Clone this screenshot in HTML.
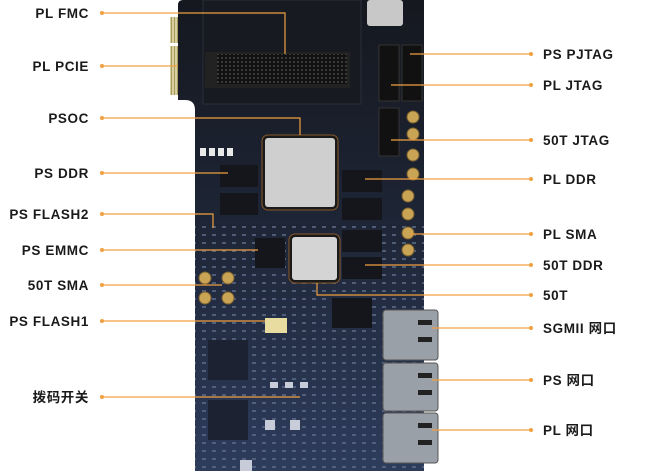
<!DOCTYPE html>
<html><head><meta charset="utf-8"><style>
html,body{margin:0;padding:0;background:#fff;width:651px;height:471px;overflow:hidden}
svg{display:block}
text{font-family:"Liberation Sans","Noto Sans CJK SC",sans-serif;font-weight:bold;font-size:13.5px;fill:#1a1a1a;letter-spacing:0.6px}
</style></head><body>
<svg width="651" height="471" viewBox="0 0 651 471">
<defs>
<linearGradient id="bd" x1="0" y1="0" x2="0" y2="1">
<stop offset="0" stop-color="#15181f"/><stop offset="0.45" stop-color="#1d2434"/><stop offset="1" stop-color="#2e3c5c"/>
</linearGradient>
<pattern id="pin" width="4" height="4" patternUnits="userSpaceOnUse"><rect width="4" height="4" fill="#111"/><rect x="1" y="1" width="2" height="2" fill="#3a3a3a"/></pattern>
<pattern id="gold" width="3" height="6" patternUnits="userSpaceOnUse"><rect width="3" height="6" fill="#d9d0a0"/><rect width="1" height="6" fill="#a89a60"/></pattern>
<pattern id="comp" width="10" height="8" patternUnits="userSpaceOnUse"><rect width="10" height="8" fill="none"/><rect x="2" y="2" width="4" height="2" fill="#5a6a88"/></pattern>
</defs>
<rect x="170" y="17" width="11" height="26" fill="url(#gold)"/>
<rect x="170" y="46" width="11" height="49" fill="url(#gold)"/>
<path d="M183 0 H424 V471 H195 V110 Q195 100 185 100 H178 V5 Q178 0 183 0 Z" fill="url(#bd)"/>
<rect x="195" y="220" width="229" height="251" fill="url(#comp)" opacity="0.8"/>
<rect x="203" y="0" width="158" height="104" fill="#171a20" stroke="#2a2e38"/>
<rect x="205" y="52" width="145" height="36" fill="#222"/>
<rect x="217" y="54" width="130" height="30" fill="url(#pin)"/>
<rect x="367" y="0" width="36" height="26" fill="#c8c8c8" rx="3"/>
<rect x="379" y="45" width="20" height="56" fill="#111" stroke="#333"/>
<rect x="402" y="45" width="20" height="56" fill="#111" stroke="#333"/>
<rect x="379" y="108" width="20" height="48" fill="#111" stroke="#333"/>
<g fill="#e8e8e8"><rect x="200" y="148" width="6" height="8"/><rect x="209" y="148" width="6" height="8"/><rect x="218" y="148" width="6" height="8"/><rect x="227" y="148" width="6" height="8"/></g>
<g fill="#c9a455" stroke="#7a6030">
<circle cx="413" cy="117" r="6"/><circle cx="413" cy="134" r="6"/><circle cx="413" cy="155" r="6"/><circle cx="413" cy="174" r="6"/>
<circle cx="408" cy="196" r="6"/><circle cx="408" cy="214" r="6"/><circle cx="408" cy="233" r="6"/><circle cx="408" cy="250" r="6"/>
<circle cx="205" cy="278" r="6"/><circle cx="228" cy="278" r="6"/><circle cx="205" cy="298" r="6"/><circle cx="228" cy="298" r="6"/>
</g>
<rect x="262" y="135" width="76" height="75" rx="6" fill="#1a1a1a" stroke="#8a5a2a"/>
<rect x="265" y="138" width="70" height="69" rx="3" fill="#cfcfcf"/>
<rect x="289" y="234" width="51" height="49" rx="6" fill="#1a1a1a" stroke="#8a5a2a"/>
<rect x="292" y="237" width="45" height="43" rx="3" fill="#d4d4d4"/>
<g fill="#14161c">
<rect x="220" y="165" width="38" height="22"/><rect x="220" y="193" width="38" height="22"/>
<rect x="342" y="170" width="40" height="22"/><rect x="342" y="198" width="40" height="22"/>
<rect x="342" y="230" width="40" height="22"/><rect x="342" y="257" width="40" height="22"/>
<rect x="255" y="238" width="30" height="30"/><rect x="332" y="298" width="40" height="30"/>
<rect x="208" y="340" width="40" height="40" fill="#1c2232"/><rect x="208" y="400" width="40" height="40" fill="#1c2232"/>
</g>
<g fill="#c8ccd8"><rect x="270" y="382" width="8" height="6"/><rect x="285" y="382" width="8" height="6"/><rect x="300" y="382" width="8" height="6"/><rect x="265" y="420" width="10" height="10"/><rect x="290" y="420" width="10" height="10"/><rect x="240" y="460" width="12" height="11"/></g>
<rect x="265" y="318" width="22" height="15" fill="#e8dca0"/>
<g fill="#9aa0a8" stroke="#555">
<rect x="383" y="310" width="55" height="50" rx="3"/>
<rect x="383" y="363" width="55" height="48" rx="3"/>
<rect x="383" y="413" width="55" height="50" rx="3"/>
</g>
<g fill="#222"><rect x="418" y="320" width="14" height="5"/><rect x="418" y="337" width="14" height="5"/><rect x="418" y="373" width="14" height="5"/><rect x="418" y="390" width="14" height="5"/><rect x="418" y="423" width="14" height="5"/><rect x="418" y="440" width="14" height="5"/></g>
<g stroke="#f0a040" stroke-width="1.2" fill="none">
<path d="M102 13 H285 V54"/><path d="M102 66 H178"/><path d="M102 118 H300 V135"/>
<path d="M102 173 H228"/><path d="M102 214 H213 V228"/><path d="M102 250 H258"/>
<path d="M102 285 H222"/><path d="M102 321 H265"/><path d="M102 397 H300"/>
<path d="M531 54 H410"/><path d="M531 85 H391"/><path d="M531 140 H391"/>
<path d="M531 179 H365"/><path d="M531 234 H410"/><path d="M531 265 H365"/>
<path d="M531 295 H317 V283"/><path d="M531 328 H432"/><path d="M531 380 H432"/><path d="M531 430 H432"/>
</g>
<g fill="#f0a040">
<circle cx="102" cy="13" r="2"/><circle cx="102" cy="66" r="2"/><circle cx="102" cy="118" r="2"/><circle cx="102" cy="173" r="2"/><circle cx="102" cy="214" r="2"/><circle cx="102" cy="250" r="2"/><circle cx="102" cy="285" r="2"/><circle cx="102" cy="321" r="2"/><circle cx="102" cy="397" r="2"/>
<circle cx="531" cy="54" r="2"/><circle cx="531" cy="85" r="2"/><circle cx="531" cy="140" r="2"/><circle cx="531" cy="179" r="2"/><circle cx="531" cy="234" r="2"/><circle cx="531" cy="265" r="2"/><circle cx="531" cy="295" r="2"/><circle cx="531" cy="328" r="2"/><circle cx="531" cy="380" r="2"/><circle cx="531" cy="430" r="2"/>
</g>
<g text-anchor="end">
<text x="89" y="18">PL FMC</text><text x="89" y="71">PL PCIE</text><text x="89" y="123">PSOC</text>
<text x="89" y="178">PS DDR</text><text x="89" y="219">PS FLASH2</text><text x="89" y="255">PS EMMC</text>
<text x="89" y="290">50T SMA</text><text x="89" y="326">PS FLASH1</text><text x="89" y="402">拨码开关</text>
</g>
<g>
<text x="543" y="59">PS PJTAG</text><text x="543" y="90">PL JTAG</text><text x="543" y="145">50T JTAG</text>
<text x="543" y="184">PL DDR</text><text x="543" y="239">PL SMA</text><text x="543" y="270">50T DDR</text>
<text x="543" y="300">50T</text><text x="543" y="333">SGMII 网口</text><text x="543" y="385">PS 网口</text><text x="543" y="435">PL 网口</text>
</g>
</svg>
</body></html>
